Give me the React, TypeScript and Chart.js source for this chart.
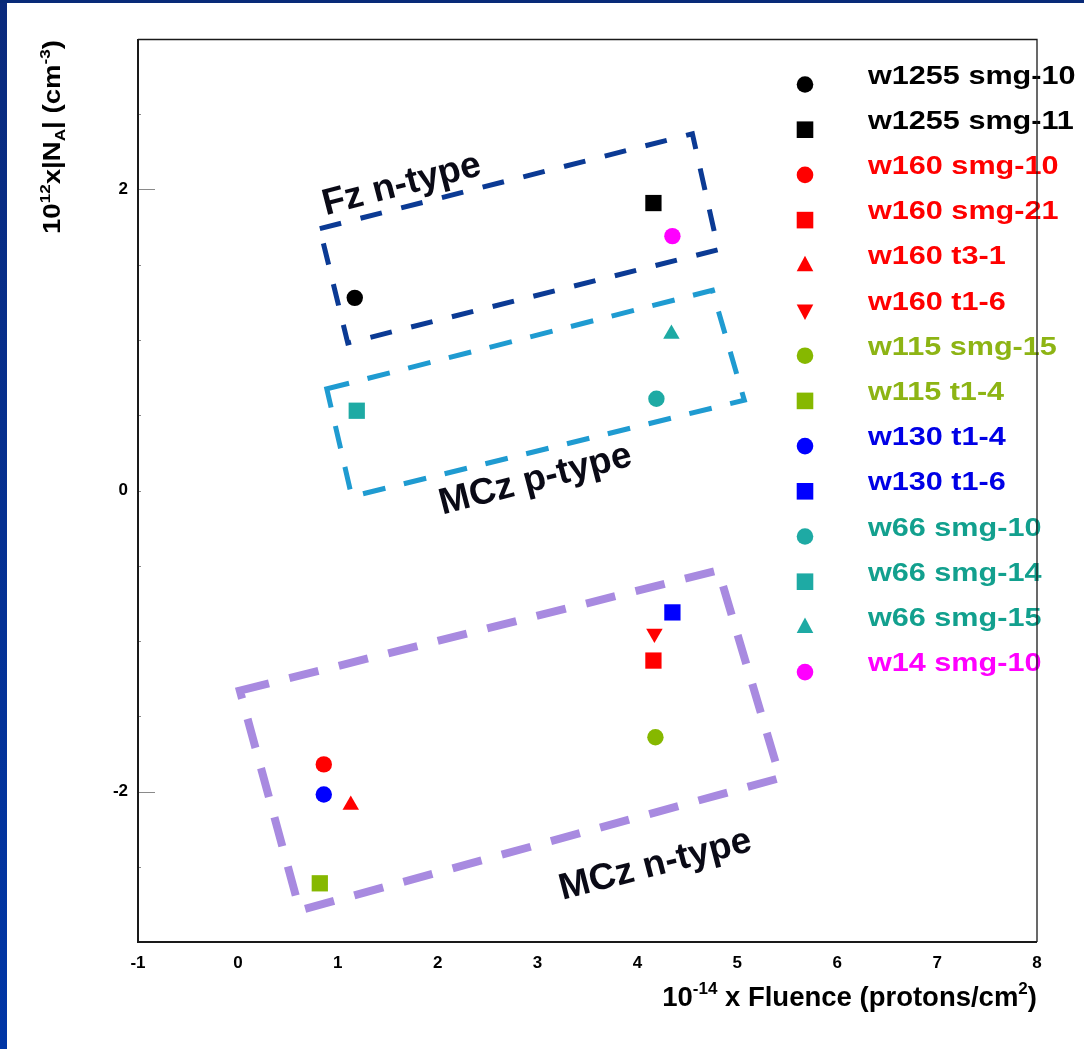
import React, { useEffect, useRef } from 'react';
import { Chart, registerables } from 'chart.js';

Chart.register(...registerables);

// ---------------- data ----------------
const sampleNames = [
  'w1255 smg-10', 'w1255 smg-11', 'w160 smg-10', 'w160 smg-21', 'w160 t3-1', 'w160 t1-6',
  'w115 smg-15', 'w115 t1-4', 'w130 t1-4', 'w130 t1-6', 'w66 smg-10', 'w66 smg-14',
  'w66 smg-15', 'w14 smg-10',
];
const fluenceValues = [1.17, 4.16, 0.86, 4.16, 1.13, 4.17, 4.18, 0.82, 0.86, 4.35, 4.19, 1.19, 4.34, 4.35];
const naValues = [1.28, 1.91, -1.82, -1.13, -2.09, -0.95, -1.64, -2.61, -2.02, -0.81, 0.61, 0.53, 1.04, 1.69];
const markerShapes = [
  'circle', 'square', 'circle', 'square', 'triangle', 'triangleDown',
  'circle', 'square', 'circle', 'square', 'circle', 'square', 'triangle', 'circle',
];
const markerColors = [
  '#000000', '#000000', '#ff0000', '#ff0000', '#ff0000', '#ff0000',
  '#86b800', '#86b800', '#0000ff', '#0000ff', '#1eaaa4', '#1eaaa4', '#1eaaa4', '#ff00ff',
];
const textColors = [
  '#000000', '#000000', '#ff0000', '#ff0000', '#ff0000', '#ff0000',
  '#8db414', '#8db414', '#0000e6', '#0000e6', '#12a08e', '#12a08e', '#12a08e', '#ff00ff',
];

const xMin = -1;
const xMax = 8;
const yMin = -3;
const yMax = 3;
const yLabelledTicks = [-2, 0, 2];

// region boxes (corners in data units: TL, TR, BR, BL)
const fzBoxX = [0.82, 4.55, 4.81, 1.1];
const fzBoxY = [1.74, 2.37, 1.6, 0.98];
const mczPBoxX = [0.89, 4.75, 5.07, 1.14];
const mczPBoxY = [0.675, 1.33, 0.6, -0.04];
const mczNBoxX = [0.02, 4.81, 5.43, 0.62];
const mczNBoxY = [-1.33, -0.53, -1.91, -2.79];
const regionLabels = ['Fz n-type', 'MCz p-type', 'MCz n-type'];
const regionLabelX = [1.64, 2.98, 4.18];
const regionLabelY = [2.03, 0.07, -2.49];

// ---------------- styles ----------------
const FONT = '"Liberation Sans", Arial, Helvetica, sans-serif';
const boxStyles = [
  { xs: fzBoxX, ys: fzBoxY, color: '#0b3a94', width: 5, dash: [22, 20] },
  { xs: mczPBoxX, ys: mczPBoxY, color: '#1f9bd1', width: 5, dash: [23, 19] },
  { xs: mczNBoxX, ys: mczNBoxY, color: '#a88ae0', width: 8, dash: [30, 21] },
];

type Seg = { t: string; k: 'n' | 'sup' | 'sub' };

function drawRich(
  ctx: CanvasRenderingContext2D,
  segs: Seg[],
  x: number,
  y: number,
  size: number,
  scaleX: number,
  align: 'left' | 'right',
  color: string,
) {
  const sub = size * 0.62;
  let w = 0;
  for (const s of segs) {
    ctx.font = `bold ${s.k === 'n' ? size : sub}px ${FONT}`;
    w += ctx.measureText(s.t).width;
  }
  ctx.save();
  ctx.translate(align === 'right' ? x - w * scaleX : x, y);
  ctx.scale(scaleX, 1);
  ctx.fillStyle = color;
  ctx.textAlign = 'left';
  ctx.textBaseline = 'alphabetic';
  let cx = 0;
  for (const s of segs) {
    const fs = s.k === 'n' ? size : sub;
    ctx.font = `bold ${fs}px ${FONT}`;
    const dy = s.k === 'sup' ? -size * 0.42 : s.k === 'sub' ? size * 0.22 : 0;
    ctx.fillText(s.t, cx, dy);
    cx += ctx.measureText(s.t).width;
  }
  ctx.restore();
}

function drawMarker(ctx: CanvasRenderingContext2D, shape: string, x: number, y: number, color: string) {
  ctx.save();
  ctx.fillStyle = color;
  ctx.beginPath();
  if (shape === 'circle') {
    ctx.arc(x, y, 8.3, 0, Math.PI * 2);
  } else if (shape === 'square') {
    ctx.rect(x - 8.3, y - 8.3, 16.6, 16.6);
  } else if (shape === 'triangle') {
    ctx.moveTo(x, y - 9.5);
    ctx.lineTo(x + 8.3, y + 6);
    ctx.lineTo(x - 8.3, y + 6);
    ctx.closePath();
  } else {
    ctx.moveTo(x, y + 9.5);
    ctx.lineTo(x + 8.3, y - 6);
    ctx.lineTo(x - 8.3, y - 6);
    ctx.closePath();
  }
  ctx.fill();
  ctx.restore();
}

const decorPlugin = {
  id: 'decor',
  beforeDraw(chart: any) {
    const { ctx, width, height } = chart;
    ctx.save();
    ctx.fillStyle = '#ffffff';
    ctx.fillRect(0, 0, width, height);
    const g = ctx.createLinearGradient(0, 0, 0, height);
    g.addColorStop(0, '#0a2a7c');
    g.addColorStop(1, '#0036a6');
    ctx.fillStyle = g;
    ctx.fillRect(0, 0, 7, height);
    ctx.fillStyle = '#082a78';
    ctx.fillRect(0, 0, width, 3);
    ctx.restore();
  },
  beforeDatasetsDraw(chart: any) {
    const { ctx } = chart;
    const xs = chart.scales.x;
    const ys = chart.scales.y;
    for (const b of boxStyles) {
      ctx.save();
      ctx.strokeStyle = b.color;
      ctx.lineWidth = b.width;
      ctx.setLineDash(b.dash);
      ctx.lineCap = 'butt';
      ctx.beginPath();
      for (let i = 0; i < b.xs.length; i++) {
        const px = xs.getPixelForValue(b.xs[i]);
        const py = ys.getPixelForValue(b.ys[i]);
        if (i === 0) ctx.moveTo(px, py);
        else ctx.lineTo(px, py);
      }
      ctx.closePath();
      ctx.stroke();
      ctx.restore();
    }
    for (let i = 0; i < regionLabels.length; i++) {
      ctx.save();
      ctx.translate(xs.getPixelForValue(regionLabelX[i]), ys.getPixelForValue(regionLabelY[i]));
      ctx.rotate((-14.5 * Math.PI) / 180);
      ctx.font = `bold 37px ${FONT}`;
      ctx.fillStyle = '#0a0a16';
      ctx.textAlign = 'center';
      ctx.textBaseline = 'middle';
      ctx.fillText(regionLabels[i], 0, 0);
      ctx.restore();
    }
  },
  afterDraw(chart: any) {
    const { ctx, chartArea } = chart;
    const ys = chart.scales.y;
    ctx.save();
    ctx.strokeStyle = '#8a8a8a';
    ctx.lineWidth = 1;
    for (let v = yMin; v <= yMax + 1e-9; v += 0.5) {
      const py = Math.round(ys.getPixelForValue(v)) + 0.5;
      const len = yLabelledTicks.includes(v) && v !== 0 ? 17 : 3;
      ctx.beginPath();
      ctx.moveTo(chartArea.left, py);
      ctx.lineTo(chartArea.left + len, py);
      ctx.stroke();
    }
    ctx.restore();

    const lx = chartArea.left + 667;
    const tx = chartArea.left + 730;
    for (let i = 0; i < sampleNames.length; i++) {
      const my = chartArea.top + 45.5 + i * 45.2;
      drawMarker(ctx, markerShapes[i], lx, my, markerColors[i]);
      drawRich(ctx, [{ t: sampleNames[i], k: 'n' }], tx, my - 1, 25.5, 1.2, 'left', textColors[i]);
    }

    ctx.save();
    ctx.strokeStyle = '#1a1a1a';
    ctx.lineWidth = 2;
    ctx.beginPath();
    ctx.moveTo(chartArea.left, chartArea.top);
    ctx.lineTo(chartArea.left, chartArea.bottom);
    ctx.lineTo(chartArea.right, chartArea.bottom);
    ctx.stroke();
    ctx.lineWidth = 1.3;
    ctx.beginPath();
    ctx.moveTo(chartArea.left, chartArea.top + 0.5);
    ctx.lineTo(chartArea.right, chartArea.top + 0.5);
    ctx.lineTo(chartArea.right, chartArea.bottom);
    ctx.stroke();
    ctx.restore();

    drawRich(
      ctx,
      [
        { t: '10', k: 'n' },
        { t: '-14', k: 'sup' },
        { t: ' x Fluence (protons/cm', k: 'n' },
        { t: '2', k: 'sup' },
        { t: ')', k: 'n' },
      ],
      chartArea.right,
      chartArea.bottom + 64,
      27.5,
      1.0,
      'right',
      '#000000',
    );
    ctx.save();
    ctx.translate(60, 234);
    ctx.rotate(-Math.PI / 2);
    drawRich(
      ctx,
      [
        { t: '10', k: 'n' },
        { t: '12', k: 'sup' },
        { t: 'x|N', k: 'n' },
        { t: 'A', k: 'sub' },
        { t: '| (cm', k: 'n' },
        { t: '-3', k: 'sup' },
        { t: ')', k: 'n' },
      ],
      0,
      0,
      24,
      1.15,
      'left',
      '#000000',
    );
    ctx.restore();
  },
};

export default function App() {
  const ref = useRef<HTMLCanvasElement>(null);

  useEffect(() => {
    const canvas = ref.current;
    if (!canvas) return;
    const datasets = sampleNames.map((name, i) => {
      const shape = markerShapes[i];
      return {
        label: name,
        data: [{ x: fluenceValues[i], y: naValues[i] }],
        pointStyle: shape === 'square' ? 'rect' : shape === 'circle' ? 'circle' : 'triangle',
        rotation: shape === 'triangleDown' ? 180 : 0,
        radius: shape === 'square' ? 11.5 : shape === 'circle' ? 8.2 : 9.5,
        backgroundColor: markerColors[i],
        borderColor: markerColors[i],
        borderWidth: 0,
      };
    });
    const chart = new Chart(canvas, {
      type: 'scatter',
      data: { datasets },
      plugins: [decorPlugin],
      options: {
        responsive: false,
        animation: false,
        devicePixelRatio: 1,
        layout: { padding: { left: 0, top: 39, right: 47, bottom: 0 } },
        plugins: {
          legend: { display: false },
          tooltip: { enabled: false },
          title: { display: false },
        },
        scales: {
          x: {
            type: 'linear',
            min: xMin,
            max: xMax,
            grid: { display: false, drawTicks: false },
            border: { display: false },
            ticks: {
              stepSize: 1,
              padding: 11,
              color: '#000000',
              font: { family: FONT, size: 17, weight: 'bold' },
            },
            afterFit: (s: any) => {
              s.height = 107;
            },
          },
          y: {
            type: 'linear',
            min: yMin,
            max: yMax,
            grid: { display: false, drawTicks: false },
            border: { display: false },
            ticks: {
              stepSize: 1,
              padding: 10,
              color: '#000000',
              font: { family: FONT, size: 17, weight: 'bold' },
              callback: (v: any) => (yLabelledTicks.includes(Number(v)) ? String(v) : ''),
            },
            afterFit: (s: any) => {
              s.width = 138;
            },
          },
        },
      } as any,
    });
    return () => chart.destroy();
  }, []);

  return (
    <div style={{ position: 'fixed', left: 0, top: 0, width: 1084, height: 1049, background: '#ffffff' }}>
      <canvas ref={ref} width={1084} height={1049} style={{ display: 'block', width: 1084, height: 1049 }} />
    </div>
  );
}
